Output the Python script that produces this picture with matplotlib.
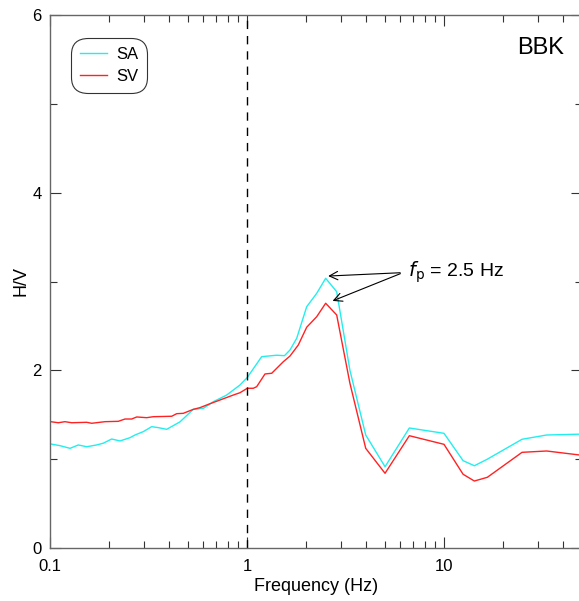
import matplotlib
matplotlib.use("Agg")
import matplotlib.pyplot as plt
from matplotlib.ticker import FixedLocator, NullFormatter, LogLocator

plt.rcParams['font.family'] = ['Liberation Sans', 'DejaVu Sans']

# SA (cyan) curve
sa_freq = [0.1008, 0.1124, 0.1264, 0.1392, 0.1536, 0.1726, 0.1865, 0.2057, 0.2267,
           0.2548, 0.2701, 0.2976, 0.3283, 0.3546, 0.3912, 0.4570, 0.5340, 0.6001,
           0.6745, 0.7888, 0.9215, 1.0035, 1.187, 1.415, 1.55, 1.653, 1.788, 2.009,
           2.259, 2.508, 2.853, 3.33, 4.005, 5.02, 6.67, 10.0, 12.5, 14.26, 16.6,
           24.9, 33.2, 50.0]
sa_hv = [1.171, 1.152, 1.122, 1.160, 1.140, 1.160, 1.180, 1.227, 1.205,
         1.242, 1.272, 1.310, 1.366, 1.355, 1.336, 1.420, 1.561, 1.572,
         1.647, 1.722, 1.835, 1.920, 2.154, 2.170, 2.165, 2.229, 2.361, 2.716,
         2.867, 3.036, 2.885, 2.00, 1.272, 0.915, 1.351, 1.291, 0.983, 0.926, 1.00,
         1.224, 1.272, 1.282]

# SV (red) curve
sv_freq = [0.1008, 0.1102, 0.1191, 0.1289, 0.1536, 0.1628, 0.1902, 0.2222, 0.2403,
           0.2598, 0.2755, 0.3096, 0.3344, 0.4148, 0.4397, 0.4749, 0.5340, 0.5772,
           0.6363, 0.7295, 0.8520, 0.9215, 1.0035, 1.0764, 1.120, 1.234, 1.335,
           1.471, 1.529, 1.653, 1.821, 2.009, 2.259, 2.508, 2.853, 3.33, 4.005,
           5.02, 6.67, 10.0, 12.5, 14.26, 16.6, 24.9, 33.2, 50.0]
sv_hv = [1.422, 1.410, 1.422, 1.410, 1.415, 1.404, 1.422, 1.426, 1.452,
         1.452, 1.475, 1.467, 1.478, 1.483, 1.512, 1.516, 1.561, 1.580,
         1.617, 1.666, 1.722, 1.748, 1.798, 1.798, 1.816, 1.959, 1.967,
         2.060, 2.097, 2.161, 2.285, 2.485, 2.604, 2.755, 2.623, 1.854, 1.122,
         0.841, 1.264, 1.167, 0.830, 0.754, 0.796, 1.077, 1.092, 1.044]

x_ticks = [0.1, 1, 10]
x_tick_labels = ["0.1", "1", "10"]
y_ticks = [0, 2, 4, 6]
y_minor = [1, 3, 5]

fig = plt.figure(figsize=(5.79, 6.01), dpi=100)
ax = fig.add_axes([50 / 579, 53 / 601, 531.7 / 579, 533 / 601])

ax.plot(sa_freq, sa_hv, color='#22EEEE', lw=1.0, label='SA')
ax.plot(sv_freq, sv_hv, color='#FF2222', lw=1.0, label='SV')
ax.axvline(1.0, color='black', lw=1.0, dashes=(6, 5))

ax.set_xscale('log')
ax.set_xlim(0.1, 50)
ax.set_ylim(0, 6)
ax.set_xticks(x_ticks)
ax.set_xticklabels(x_tick_labels)
ax.xaxis.set_minor_locator(LogLocator(base=10, subs=[2, 3, 4, 5, 6, 7, 8, 9]))
ax.xaxis.set_minor_formatter(NullFormatter())
ax.set_yticks(y_ticks)
ax.yaxis.set_minor_locator(FixedLocator(y_minor))

spine_col = '#666666'
for s in ax.spines.values():
    s.set_color(spine_col)
    s.set_linewidth(1.0)
ax.tick_params(which='both', direction='in', top=True, right=True,
               color='#333333', labelsize=12, width=0.8)
ax.tick_params(which='major', length=8, pad=8)
ax.tick_params(which='minor', length=5)
ax.tick_params(axis='y', pad=6)

ax.set_xlabel('Frequency (Hz)', fontsize=13, labelpad=3)
ax.set_ylabel('H/V', fontsize=13, labelpad=2)

ax.text(0.967, 0.938, 'BBK', transform=ax.transAxes, ha='right', va='center', fontsize=17)

leg = ax.legend(loc='upper left', bbox_to_anchor=(0.044, 0.953), fontsize=12,
                frameon=True, fancybox=True, handlelength=1.6, handletextpad=0.55,
                borderpad=0.4, labelspacing=0.45, borderaxespad=0.0)
leg.get_frame().set_edgecolor('black')
leg.get_frame().set_linewidth(0.8)
leg.get_frame().set_boxstyle('round,pad=0.15,rounding_size=1.0')

txt = r'$f$$_{\rm p}$ = 2.5 Hz'
ax.annotate('', xy=(2.5, 3.06), xytext=(6.19, 3.10),
            arrowprops=dict(arrowstyle='->', color='black', lw=0.8, mutation_scale=15))
ax.annotate('', xy=(2.638, 2.77), xytext=(6.19, 3.10),
            arrowprops=dict(arrowstyle='->', color='black', lw=0.8, mutation_scale=15))
ax.text(6.6, 3.10, txt, fontsize=14, ha='left', va='center')

fig.savefig('out.png', dpi=100)
